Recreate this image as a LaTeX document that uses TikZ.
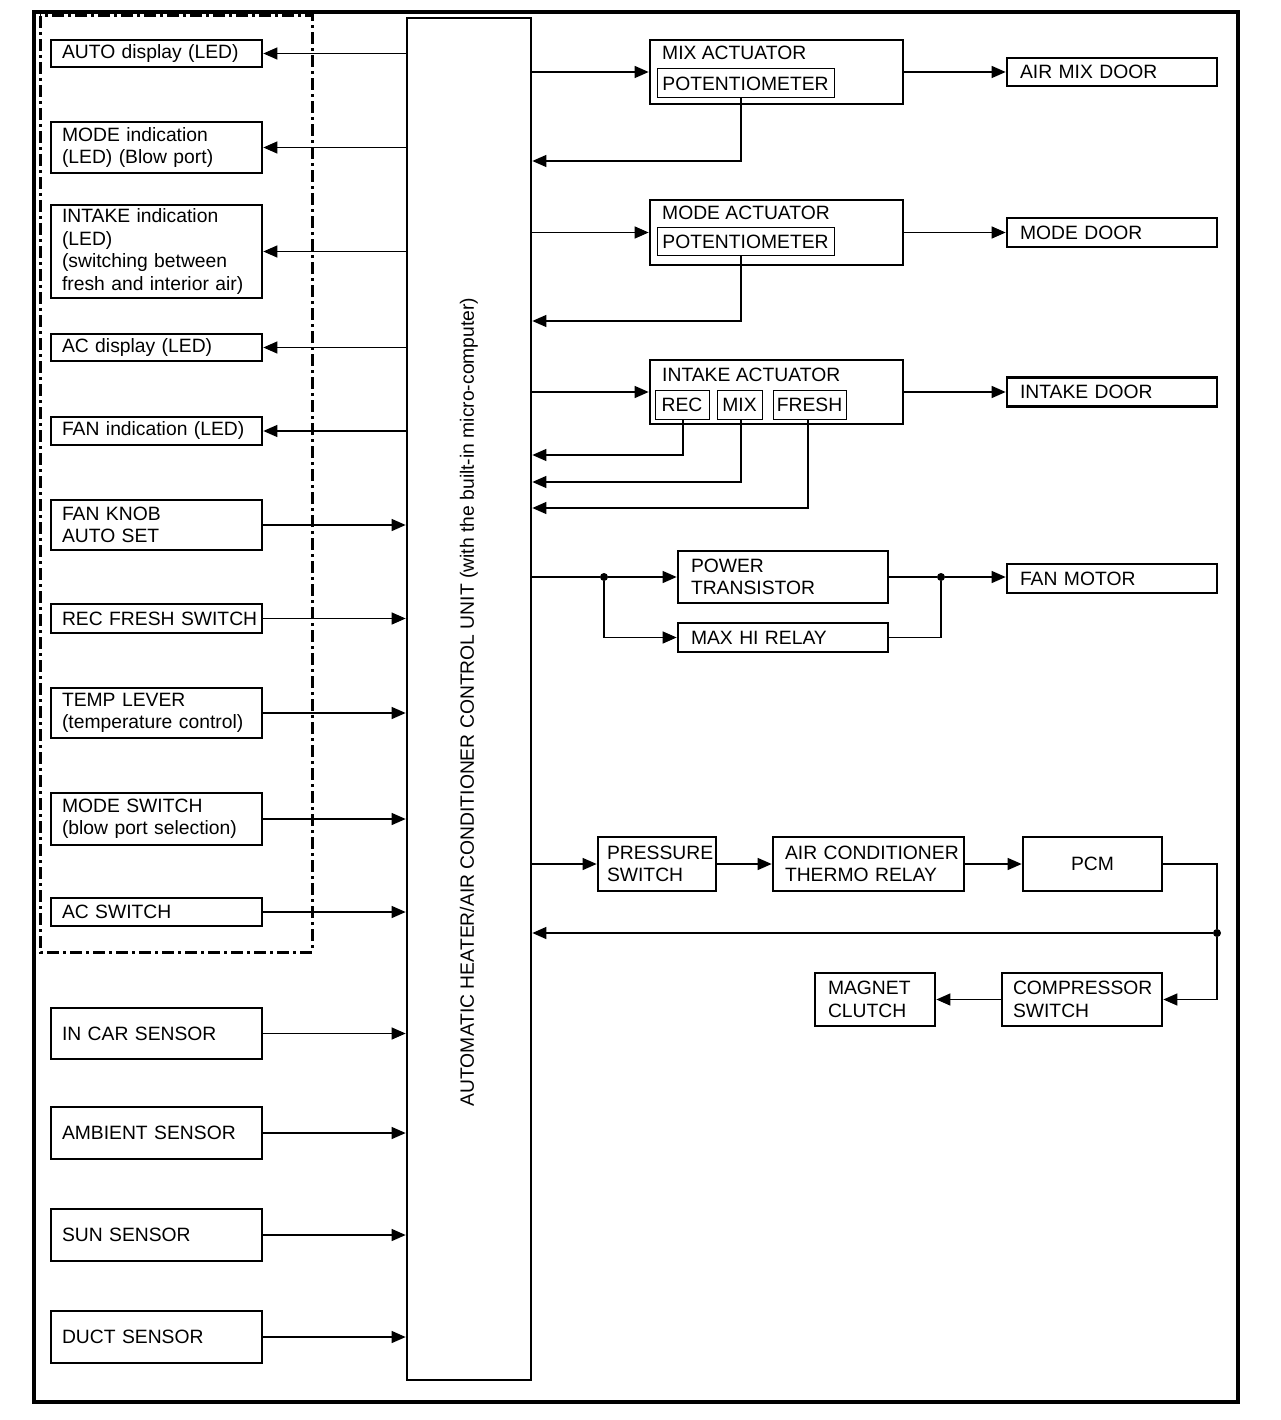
\documentclass[tikz,border=0pt]{standalone}
\usepackage{fontspec}
\setmainfont{Liberation Sans}
\usetikzlibrary{arrows.meta}
\begin{document}
\begin{tikzpicture}[x=1pt,y=-1pt,
  every node/.style={font=\fontsize{19.3}{22.5}\selectfont, inner ysep=2pt},
  box/.style={draw, line width=2.7pt, align=left},
  lbox/.style={box, text width=189pt, inner xsep=11pt},
  rbox/.style={box, text width=184pt, inner xsep=13pt},
  frame/.style={draw, line width=2.7pt, inner sep=0pt},
  thinbox/.style={draw, line width=1pt, inner xsep=3pt, inner ysep=0pt},
  arr/.style={line width=1.3pt, -{Triangle[length=14pt,width=12pt]}},
  ln/.style={line width=1.3pt},
  dot/.style={circle, fill, inner sep=0pt, minimum size=8pt}
]
\useasboundingbox (0,0) rectangle (1280,1420);
\fill[white] (0,0) rectangle (1280,1420);
% outer frame and group frame
\draw[line width=4pt] (34,12) rectangle (1238,1402);
\draw[line width=3pt, dash pattern=on 12pt off 4pt on 3pt off 4pt] (40,16) rectangle (312,952);

% control unit
\node[frame, minimum width=124pt, minimum height=1362pt] (unit) at (469,699) {};
\node[rotate=90, inner sep=0pt] (unittext) at (469,702) {AUTOMATIC HEATER/AIR CONDITIONER CONTROL UNIT (with the built-in micro-computer)};

% left boxes
\node[lbox, minimum height=27pt] (autoled) at (156.5,53.5) {AUTO display (LED)};
\node[lbox, minimum height=51pt] (modeled) at (156.5,147.5) {MODE indication\\(LED) (Blow port)};
\node[lbox, minimum height=93pt] (intakeled) at (156.5,251.5) {INTAKE indication\\(LED)\\(switching between\\fresh and interior air)};
\node[lbox, minimum height=27pt] (acled) at (156.5,347.5) {AC display (LED)};
\node[lbox, minimum height=28pt] (fanled) at (156.5,431) {FAN indication (LED)};
\node[lbox, minimum height=50pt] (fanknob) at (156.5,525) {FAN KNOB\\AUTO SET};
\node[lbox, minimum height=29pt] (recfresh) at (156.5,618.5) {\mbox{REC FRESH SWITCH}};
\node[lbox, minimum height=50pt] (temp) at (156.5,713) {TEMP LEVER\\(temperature control)};
\node[lbox, minimum height=52pt] (modesw) at (156.5,819) {MODE SWITCH\\(blow port selection)};
\node[lbox, minimum height=28pt] (acsw) at (156.5,912) {AC SWITCH};
\node[lbox, minimum height=51pt] (incar) at (156.5,1033.5) {IN CAR SENSOR};
\node[lbox, minimum height=52pt] (ambient) at (156.5,1133) {AMBIENT SENSOR};
\node[lbox, minimum height=52pt] (sun) at (156.5,1235) {SUN SENSOR};
\node[lbox, minimum height=52pt] (duct) at (156.5,1337) {DUCT SENSOR};

\foreach \n in {autoled,modeled,intakeled,acled,fanled}
  \draw[arr] (unit.west |- \n.east) -- (\n.east);
\foreach \n in {fanknob,recfresh,temp,modesw,acsw,incar,ambient,sun,duct}
  \draw[arr] (\n.east) -- (unit.west |- \n.east);

% mix actuator
\node[frame, minimum width=253pt, minimum height=64pt] (mixA) at (776.5,72) {};
\node[anchor=west, inner sep=0pt] (mixAt) at (662,53) {MIX ACTUATOR};
\node[thinbox, minimum width=177pt, minimum height=29pt] (pot1) at (745.5,83.5) {POTENTIOMETER};
\node[rbox, minimum height=28pt] (airmix) at (1112,72) {AIR MIX DOOR};
\coordinate (m1) at (741,161);
\draw[arr] (unit.east |- mixA.west) -- (mixA.west);
\draw[arr] (mixA.east) -- (airmix.west);
\draw[arr] (pot1.south -| m1) |- (unit.east |- m1);

% mode actuator
\node[frame, minimum width=253pt, minimum height=65pt] (modeA) at (776.5,232.5) {};
\node[anchor=west, inner sep=0pt] (modeAt) at (662,213) {MODE ACTUATOR};
\node[thinbox, minimum width=177pt, minimum height=28pt] (pot2) at (745.5,242) {POTENTIOMETER};
\node[rbox, minimum height=29pt] (modedoor) at (1112,232.5) {MODE DOOR};
\coordinate (m2) at (741,321);
\draw[arr] (unit.east |- modeA.west) -- (modeA.west);
\draw[arr] (modeA.east) -- (modedoor.west);
\draw[arr] (pot2.south -| m2) |- (unit.east |- m2);

% intake actuator
\node[frame, minimum width=253pt, minimum height=64pt] (intakeA) at (776.5,392) {};
\node[anchor=west, inner sep=0pt] (intakeAt) at (662,375) {INTAKE ACTUATOR};
\node[thinbox, minimum width=54pt, minimum height=29pt] (rec) at (682,404.5) {REC};
\node[thinbox, minimum width=45pt, minimum height=29pt] (mixs) at (739.5,404.5) {MIX};
\node[thinbox, minimum width=73pt, minimum height=29pt] (fresh) at (809.5,404.5) {FRESH};
\node[rbox, minimum height=29pt] (intakedoor) at (1112,392) {INTAKE DOOR};
\coordinate (i1) at (683,455);
\coordinate (i2) at (741,482);
\coordinate (i3) at (808,508);
\draw[arr] (unit.east |- intakeA.west) -- (intakeA.west);
\draw[arr] (intakeA.east) -- (intakedoor.west);
\draw[arr] (rec.south -| i1) |- (unit.east |- i1);
\draw[arr] (mixs.south -| i2) |- (unit.east |- i2);
\draw[arr] (fresh.south -| i3) |- (unit.east |- i3);

% fan
\node[rbox, minimum height=52pt] (ptr) at (783,577) {POWER\\TRANSISTOR};
\node[rbox, minimum height=29pt] (maxhi) at (783,637.5) {MAX HI RELAY};
\node[rbox, minimum height=29pt] (fanmotor) at (1112,578.5) {FAN MOTOR};
\node[dot] (d1) at (604,577) {};
\node[dot] (d2) at (941,577) {};
\draw[ln] (unit.east |- d1) -- (d1);
\draw[arr] (d1) -- (ptr.west);
\draw[arr] (d1) |- (maxhi.west);
\draw[ln] (ptr.east) -- (d2);
\draw[ln] (maxhi.east) -| (d2);
\draw[arr] (d2) -- (fanmotor.west |- d2);

% air conditioner chain
\node[box, text width=100pt, inner xsep=9pt, minimum height=54pt] (press) at (657,864) {\mbox{PRESSURE}\\SWITCH};
\node[box, text width=167pt, inner xsep=12pt, minimum height=54pt] (acth) at (868.5,864) {\mbox{AIR CONDITIONER}\\THERMO RELAY};
\node[box, minimum width=139pt, minimum height=54pt] (pcm) at (1092.5,864) {PCM};
\node[box, text width=138pt, inner xsep=11pt, minimum height=53pt] (comp) at (1082,999.5) {\mbox{COMPRESSOR}\\SWITCH};
\node[box, text width=94pt, inner xsep=13pt, minimum height=53pt] (magnet) at (875,999.5) {MAGNET\\CLUTCH};
\node[dot] (d3) at (1217,933) {};
\draw[arr] (unit.east |- press.west) -- (press.west);
\draw[arr] (press) -- (acth);
\draw[arr] (acth) -- (pcm);
\draw[ln] (pcm.east) -| (d3);
\draw[arr] (d3) |- (comp.east);
\draw[arr] (d3) -- (unit.east |- d3);
\draw[arr] (comp) -- (magnet);
\end{tikzpicture}
\end{document}
